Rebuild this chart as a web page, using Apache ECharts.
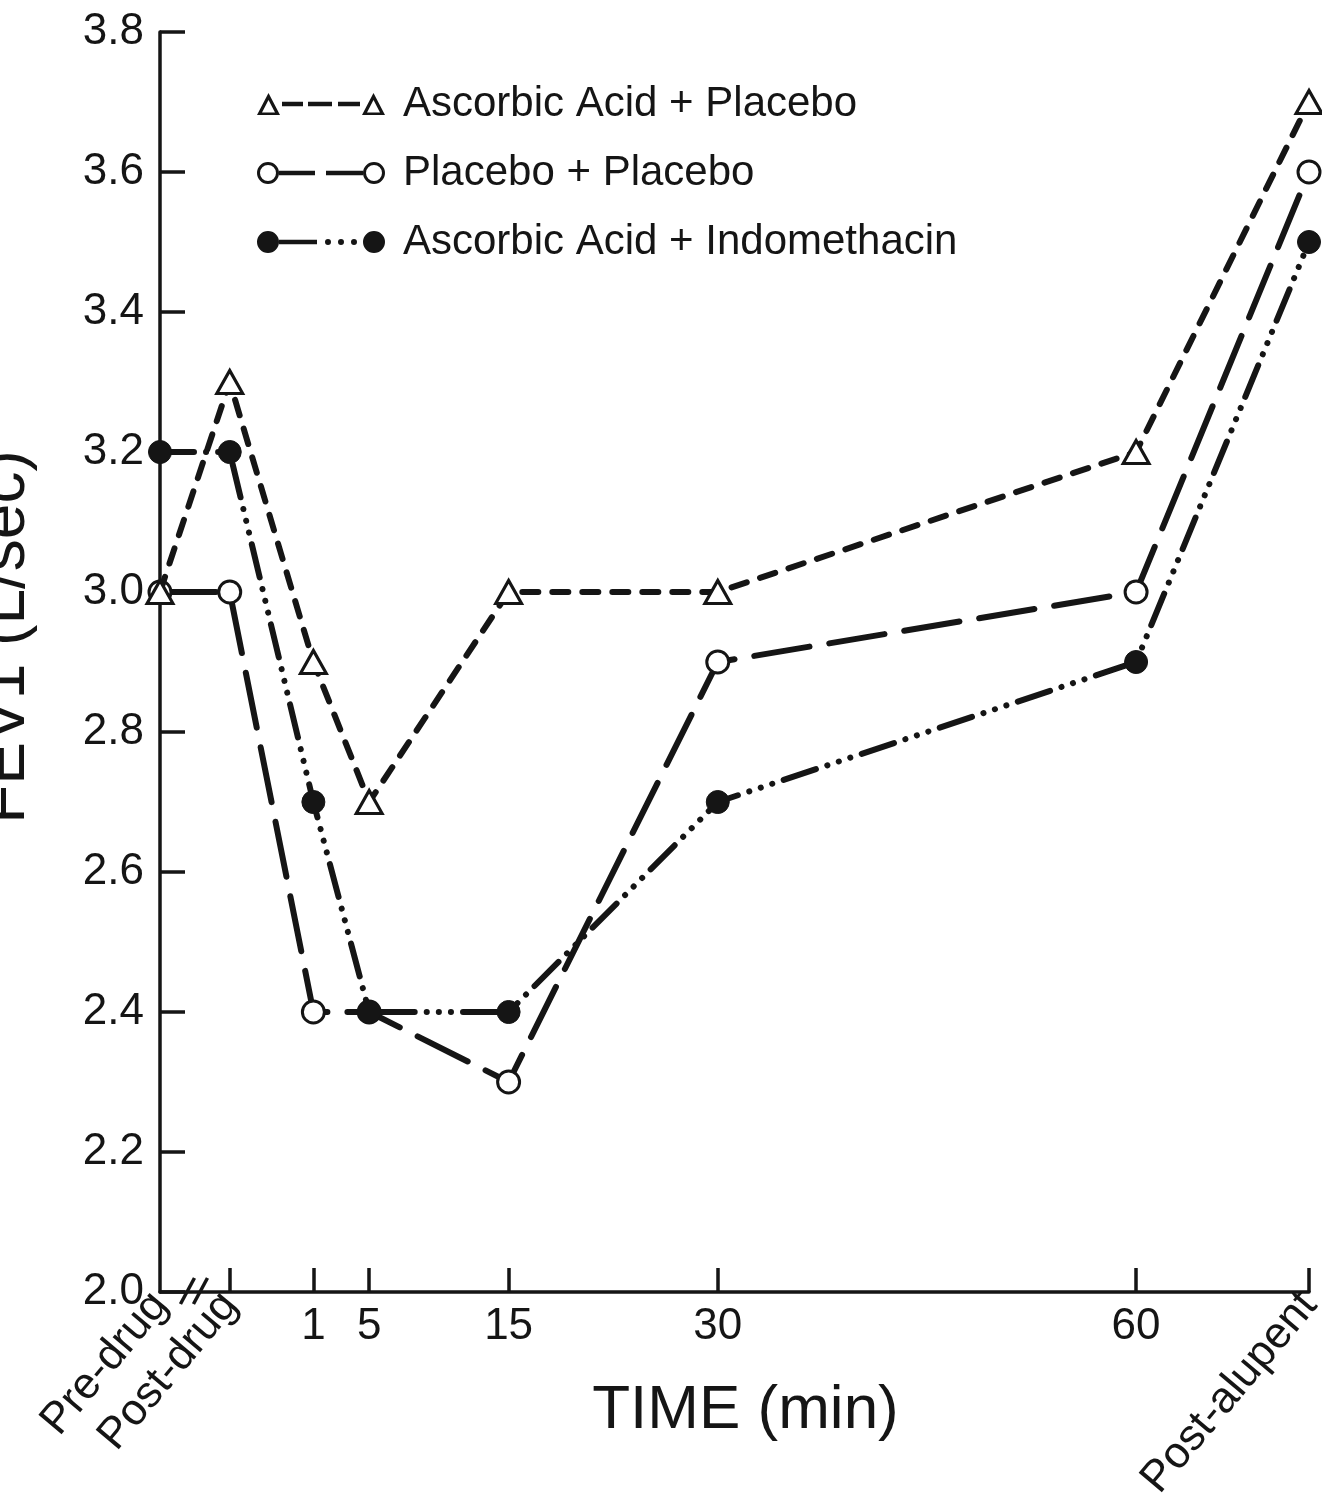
<!DOCTYPE html>
<html>
<head>
<meta charset="utf-8">
<title>FEV1 vs time</title>
<script src="https://cdn.jsdelivr.net/npm/echarts@6/dist/echarts.min.js"></script>
<style>
  html, body { margin: 0; padding: 0; background: #fff; }
  #main { width: 1322px; height: 1494px; }
</style>
</head>
<body>
<div id="main"></div>
<script>
// time points: Pre-drug / Post-drug sit left of the axis break, Post-alupent after 60 min
const timeNames = ["Pre-drug", "Post-drug", "1", "5", "15", "30", "60", "Post-alupent"];
const timePos = [-10, -5, 1, 5, 15, 30, 60, 72.4];
const minuteTicks = [1, 5, 15, 30, 60];
const namedTicks = [-10, -5, 72.4];

// FEV1 (L/sec)
const ascorbicPlacebo = [3.0, 3.3, 2.9, 2.7, 3.0, 3.0, 3.2, 3.7];
const placeboPlacebo = [3.0, 3.0, 2.4, 2.4, 2.3, 2.9, 3.0, 3.6];
const ascorbicIndomethacin = [3.2, 3.2, 2.7, 2.4, 2.4, 2.7, 2.9, 3.5];

const seriesNames = ["Ascorbic Acid + Placebo", "Placebo + Placebo", "Ascorbic Acid + Indomethacin"];

const INK = "#151515";
const FONT = "'Liberation Sans', Arial, sans-serif";

function pairs(values) {
  return values.map((v, i) => [timePos[i], v]);
}

// legend glyphs: marker - line - marker, drawn as filled paths
const ring = (cx) =>
  `M${cx - 11} 12A11 11 0 1 0 ${cx + 11} 12A11 11 0 1 0 ${cx - 11} 12Z` +
  `M${cx - 8} 12A8 8 0 1 1 ${cx + 8} 12A8 8 0 1 1 ${cx - 8} 12Z`;
const disc = (cx, r) => `M${cx - r} 12A${r} ${r} 0 1 0 ${cx + r} 12A${r} ${r} 0 1 0 ${cx - r} 12Z`;
const tri = (x) => `M${x} 23L${x + 11.5} 1L${x + 23} 23Z` + `M${x + 5} 20.5L${x + 18} 20.5L${x + 11.5} 8Z`;
const bar = (x0, x1) => `M${x0} 9.75H${x1}V14.25H${x0}Z`;

const legendIcons = [
  "path://" + tri(0) + bar(25, 46) + bar(51, 75) + bar(81, 103) + tri(105),
  "path://" + ring(11) + bar(22, 58) + bar(69, 106) + ring(117),
  "path://" + disc(11, 11) + bar(22, 60) + disc(71, 3) + disc(84, 3) + disc(97, 3) + disc(117, 11)
];

const chart = echarts.init(document.getElementById("main"));

const option = {
  backgroundColor: "#fff",
  animation: false,
  textStyle: { fontFamily: FONT, color: INK },
  grid: { left: 160, right: 13, top: 32, bottom: 202, outerBoundsMode: "none" },
  legend: {
    orient: "vertical",
    left: 252,
    top: 74,
    itemWidth: 128,
    itemHeight: 22,
    itemGap: 19,
    selectedMode: false,
    itemStyle: { color: INK, borderWidth: 0 },
    textStyle: { fontFamily: FONT, fontSize: 42, color: INK, lineHeight: 50, padding: [0, 0, 0, 13] },
    data: seriesNames.map((n, i) => ({ name: n, icon: legendIcons[i] }))
  },
  xAxis: [
    {
      type: "value",
      min: -10,
      max: 72.4,
      position: "bottom",
      splitLine: { show: false },
      axisLine: { onZero: false, lineStyle: { color: INK, width: 3.5 } },
      axisTick: {
        inside: true,
        length: 24,
        lineStyle: { color: INK, width: 3.5 },
        customValues: [-5].concat(minuteTicks, [72.4])
      },
      axisLabel: {
        customValues: minuteTicks,
        fontSize: 44,
        margin: 13,
        color: INK,
        fontFamily: FONT
      },
      name: "TIME (min)",
      nameLocation: "middle",
      nameGap: 88,
      nameTextStyle: { fontSize: 62, color: INK, fontFamily: FONT, padding: [0, 0, 0, 22] }
    },
    {
      type: "value",
      min: -10,
      max: 72.4,
      position: "bottom",
      splitLine: { show: false },
      axisLine: { show: false, onZero: false },
      axisTick: { show: false },
      axisLabel: {
        customValues: namedTicks,
        rotate: 50,
        fontSize: 44,
        margin: 6,
        color: INK,
        fontFamily: FONT,
        formatter: (v) => timeNames[timePos.indexOf(v)]
      }
    }
  ],
  yAxis: {
    type: "value",
    min: 2.0,
    max: 3.8,
    interval: 0.2,
    splitLine: { show: false },
    axisLine: { onZero: false, lineStyle: { color: INK, width: 3.5 } },
    axisTick: { inside: true, length: 25, lineStyle: { color: INK, width: 3.5 } },
    axisLabel: {
      fontSize: 44,
      margin: 16,
      color: INK,
      fontFamily: FONT,
      formatter: (v) => v.toFixed(1)
    },
    name: "FEV1 (L/sec)",
    nameLocation: "middle",
    nameRotate: 90,
    nameGap: 122,
    nameTextStyle: { fontSize: 64, color: INK, fontFamily: FONT, padding: [0, 0, 0, 50] }
  },
  series: [
    {
      name: seriesNames[0],
      type: "line",
      data: pairs(ascorbicPlacebo),
      clip: false,
      symbol: "triangle",
      symbolSize: [26, 23],
      itemStyle: { color: "#fff", borderColor: INK, borderWidth: 3 },
      lineStyle: { color: INK, width: 6, type: [16, 14], cap: "round" },
      z: 3
    },
    {
      name: seriesNames[1],
      type: "line",
      data: pairs(placeboPlacebo),
      clip: false,
      symbol: "circle",
      symbolSize: 22,
      itemStyle: { color: "#fff", borderColor: INK, borderWidth: 3 },
      lineStyle: { color: INK, width: 6, type: [56, 20], cap: "round" },
      z: 2
    },
    {
      name: seriesNames[2],
      type: "line",
      data: pairs(ascorbicIndomethacin),
      clip: false,
      symbol: "circle",
      symbolSize: 23,
      itemStyle: { color: INK, borderColor: INK, borderWidth: 1 },
      lineStyle: { color: INK, width: 6, type: [34, 12, 0.1, 12, 0.1, 12, 0.1, 12], cap: "round" },
      z: 4
    }
  ]
};

chart.setOption(option);

// axis break mark "//" between Pre-drug and Post-drug
const brk = chart.convertToPixel({ xAxisIndex: 0, yAxisIndex: 0 }, [-7.6, 2.0]);
const slash = (dx) => ({
  type: "line",
  shape: { x1: brk[0] + dx - 7, y1: brk[1] + 12, x2: brk[0] + dx + 7, y2: brk[1] - 14 },
  style: { stroke: INK, lineWidth: 3.5 },
  z: 10
});
chart.setOption({ graphic: [slash(-6), slash(7)] });

window.onresize = function() {
  chart.resize();
};
</script>
</body>
</html>
